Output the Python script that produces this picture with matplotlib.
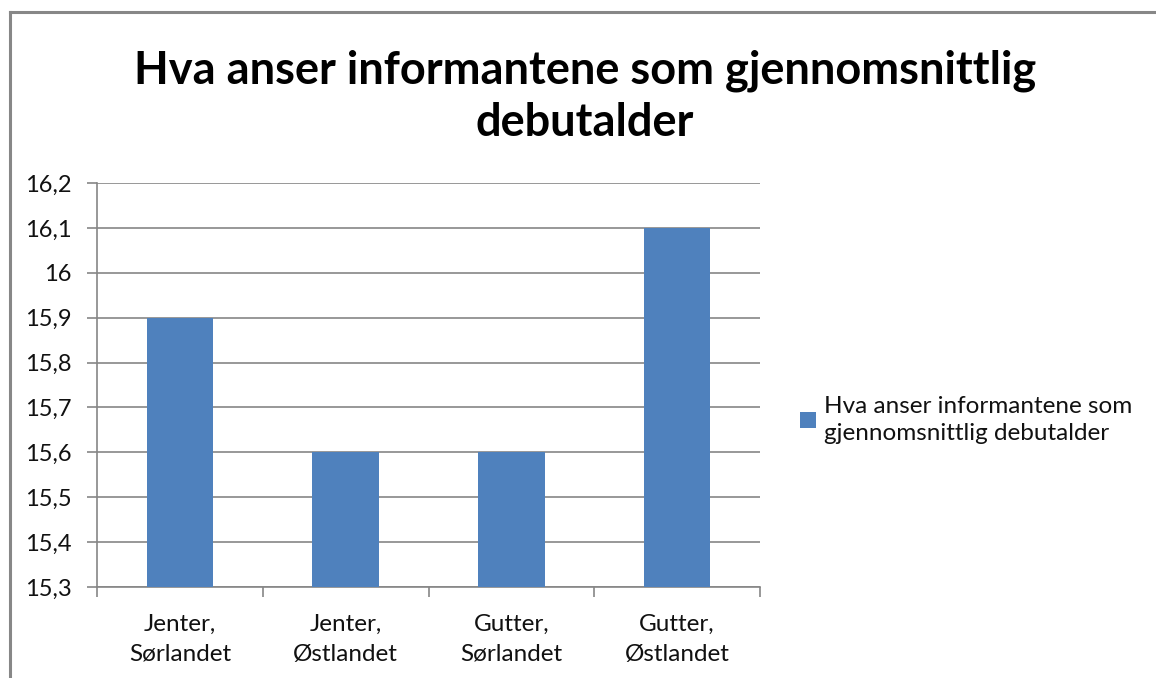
import matplotlib
matplotlib.use("Agg")
import matplotlib.pyplot as plt
from matplotlib.lines import Line2D
from matplotlib.patches import Patch

categories = ["Jenter,\nSørlandet", "Jenter,\nØstlandet", "Gutter,\nSørlandet", "Gutter,\nØstlandet"]
values = [15.9, 15.6, 15.6, 16.1]
yticks = [15.3, 15.4, 15.5, 15.6, 15.7, 15.8, 15.9, 16.0, 16.1, 16.2]
ytick_labels = ["15,3", "15,4", "15,5", "15,6", "15,7", "15,8", "15,9", "16", "16,1", "16,2"]
series_name = "Hva anser informantene som\ngjennomsnittlig debutalder"
title = "Hva anser informantene som gjennomsnittlig\ndebutalder"

W, H = 1156, 678
plt.rcParams['font.family'] = ['Lato', 'DejaVu Sans']
fig = plt.figure(figsize=(W / 100, H / 100), dpi=100)
fig.patch.set_facecolor('white')

grid_c = '#868686'
bar_c = '#4F81BD'
txt_c = '#111111'

ax = fig.add_axes([97 / W, 1 - 587 / H, (760 - 97) / W, (587 - 183) / H])
x = list(range(len(categories)))
ax.bar(x, values, width=0.4, color=bar_c, zorder=3)
ax.set_xlim(-0.5, len(categories) - 0.5)
ax.set_ylim(yticks[0], yticks[-1])
ax.set_yticks(yticks)
ax.set_yticklabels(ytick_labels)
ax.yaxis.grid(True, color=grid_c, linewidth=1.2, zorder=0)
ax.set_xticks(x)
ax.set_xticklabels(categories, linespacing=1.55)
ax.set_xticks([i - 0.5 for i in range(len(categories) + 1)], minor=True)
ax.tick_params(axis='x', which='major', length=0, pad=19, labelsize=17.5, labelcolor=txt_c)
ax.tick_params(axis='x', which='minor', length=7, width=1.2, color=grid_c, direction='out')
ax.tick_params(axis='y', which='major', length=7, width=1.2, color=grid_c, direction='out', pad=11,
               labelsize=17, labelcolor=txt_c)
for s in ['top', 'right']:
    ax.spines[s].set_visible(False)
for s in ['left', 'bottom']:
    ax.spines[s].set_color(grid_c)
    ax.spines[s].set_linewidth(1.2)

fig.text(0.506, 1 - 97 / H, title, ha='center', va='center', fontsize=32.5, fontweight='bold',
         linespacing=1.3, color='black')

handle = Patch(facecolor=bar_c, edgecolor='none')
leg = fig.legend([handle], [series_name], loc='center left', bbox_to_anchor=(778 / W, 1 - 420 / H),
                 frameon=False, fontsize=17.5, handlelength=0.65, handleheight=0.65, handletextpad=0.35,
                 labelcolor=txt_c)
for t in leg.get_texts():
    t.set_linespacing(1.3)

# outer chart-area border
fig.add_artist(Line2D([9.5 / W, 9.5 / W], [0, 1 - 12 / H], color='#878787', linewidth=2.2,
                      transform=fig.transFigure))
fig.add_artist(Line2D([9.5 / W, 1], [1 - 12 / H, 1 - 12 / H], color='#878787', linewidth=2.2,
                      transform=fig.transFigure))

fig.savefig('out.png', dpi=100)
